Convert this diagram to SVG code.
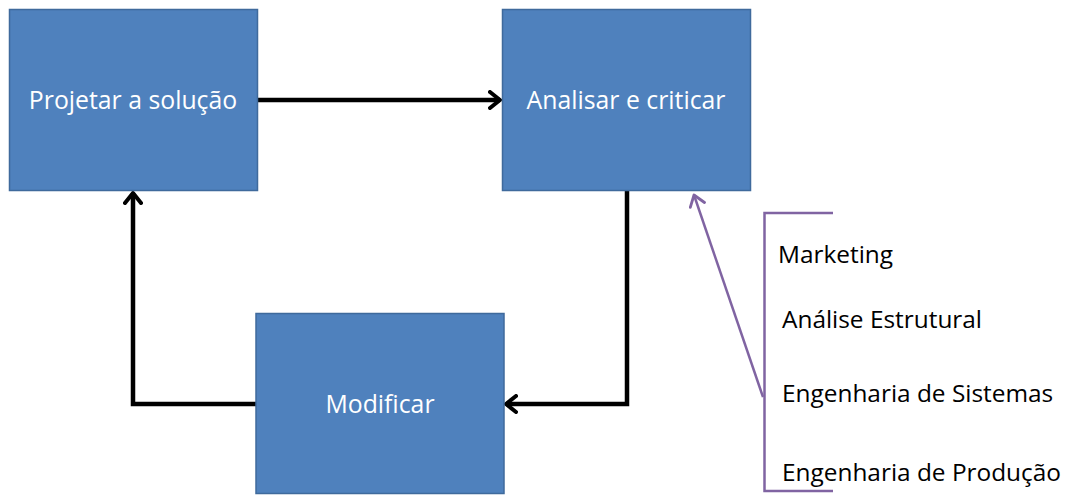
<svg xmlns="http://www.w3.org/2000/svg" width="1068" height="495" viewBox="0 0 1068 495">
<defs>
<style>
.box{fill:#4F81BD;stroke:#3F6A9C;stroke-width:1.5}
.lbl{font-family:"Open Sans","Liberation Sans",sans-serif;font-size:24.8px;fill:#FFFFFF;text-anchor:middle}
.item{font-family:"Open Sans","Liberation Sans",sans-serif;font-size:24.4px;fill:#000000}
.conn{fill:none;stroke:#000000;stroke-width:4.5;stroke-linejoin:miter}
.pur{fill:none;stroke:#8064A2;stroke-width:2.5}
</style>
<marker id="ah" viewBox="0 0 14 20" refX="12" refY="10" markerWidth="14" markerHeight="20" markerUnits="userSpaceOnUse" orient="auto">
<path d="M2,2 L12,10 L2,18" fill="none" stroke="#000000" stroke-width="4" stroke-linecap="round" stroke-linejoin="round"/>
</marker>
<marker id="ahp" viewBox="0 0 14 18" refX="12" refY="9" markerWidth="14" markerHeight="18" markerUnits="userSpaceOnUse" orient="auto">
<path d="M1.5,1.5 L12,9 L1.5,16.5" fill="none" stroke="#8064A2" stroke-width="2.8" stroke-linecap="round" stroke-linejoin="round"/>
</marker>
</defs>
<rect width="1068" height="495" fill="#FFFFFF"/>
<g id="connectors">
<path class="conn" d="M258,100 L500,100" marker-end="url(#ah)"/>
<path class="conn" d="M627,191 L627,404 L506,404" marker-end="url(#ah)"/>
<path class="conn" d="M256,404 L133,404 L133,193" marker-end="url(#ah)"/>
<path class="pur" d="M763,397 L694,195" marker-end="url(#ahp)"/>
</g>
<g id="projetar">
<rect class="box" x="9.5" y="9.5" width="248" height="181"/>
<text class="lbl" x="133" y="109">Projetar a solução</text>
</g>
<g id="analisar">
<rect class="box" x="502.5" y="9.5" width="248" height="181"/>
<text class="lbl" x="626" y="109">Analisar e criticar</text>
</g>
<g id="modificar">
<rect class="box" x="256" y="313.5" width="248" height="180"/>
<text class="lbl" x="380" y="413">Modificar</text>
</g>
<g id="areas">
<path class="pur" d="M833,213 L764.5,213 L764.5,491 L833,491"/>
<text class="item" x="778" y="263">Marketing</text>
<text class="item" x="782" y="328">Análise Estrutural</text>
<text class="item" x="782" y="402">Engenharia de Sistemas</text>
<text class="item" x="782" y="481">Engenharia de Produção</text>
</g>
</svg>
